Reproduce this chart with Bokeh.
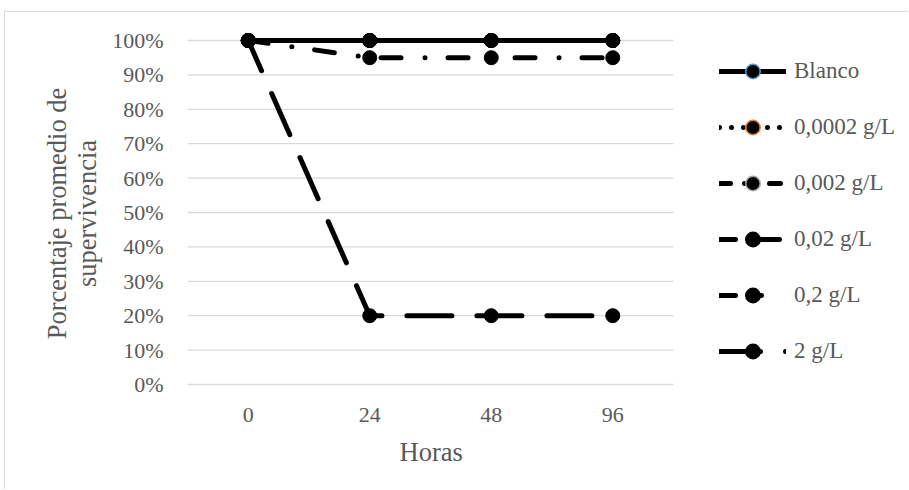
import numpy as np
from bokeh.plotting import figure
from bokeh.models import (Range1d, FixedTicker, NumeralTickFormatter,
                          Legend, LegendItem, ColumnDataSource, Title)
from bokeh.embed import file_html
from bokeh.resources import INLINE

# Survival data (fraction of organisms alive) per exposure time
horas = ["0", "24", "48", "96"]
blanco = [1.00, 1.00, 1.00, 1.00]
conc_00002 = [1.00, 1.00, 1.00, 1.00]
conc_0002 = [1.00, 0.95, 0.95, 0.95]
conc_002 = [1.00, 0.20, 0.20, 0.20]
conc_02 = [1.00, 1.00, 1.00, 1.00]
conc_2 = [1.00, 1.00, 1.00, 1.00]
series_names = ["Blanco", "0,0002 g/L", "0,002 g/L", "0,02 g/L", "0,2 g/L", "2 g/L"]
y_ticks = [0.0, 0.1, 0.2, 0.3, 0.4, 0.5, 0.6, 0.7, 0.8, 0.9, 1.0]

series_values = [blanco, conc_00002, conc_0002, conc_002, conc_02, conc_2]
# dash patterns along the plotted lines, and in the (shorter) legend samples
plot_dashes = ["solid", "0 12", "20 24 0 23", "45 25", "41 14 0 14 0 14", "solid"]
plot_offsets = [0, 0, 0, 12, 0, 0]
legend_dashes = ["solid", "0 12", "11 14 0 25", "16 17 27 30", "16 26 0 25 0 30", "41 25 0 30"]
ring_colors = ["#5B9BD5", "#ED7D31", "#A5A5A5", "#000000", "#000000", "#000000"]

FONT = "Liberation Serif"
GREY = "#595959"
GRID = "#D9D9D9"

# category slots: one unit each, centred on 0, 1, 2, ...
xpos = list(range(len(horas)))
slot_px = 121.5
frame_w = 909 - 5 - 182
unit_px = 344.0          # pixels per 100 %

p = figure(width=904, height=478, output_backend="svg", toolbar_location=None,
           x_range=Range1d(-0.5, -0.5 + frame_w / slot_px),
           y_range=Range1d(-17 / unit_px, 1 + 15 / unit_px),
           min_border_left=182, min_border_right=0,
           min_border_top=13, min_border_bottom=89)
p.margin = (11, 0, 0, 4)
p.styles = {"border-left": "1px solid #D9D9D9", "border-top": "1px solid #D9D9D9"}
p.outline_line_color = None
p.background_fill_color = "white"
p.border_fill_color = "white"

# axes
p.xaxis.ticker = FixedTicker(ticks=xpos)
p.xaxis.major_label_overrides = {i: h for i, h in zip(xpos, horas)}
p.yaxis.ticker = FixedTicker(ticks=y_ticks)
p.yaxis.formatter = NumeralTickFormatter(format="0%")
for ax in (p.xaxis[0], p.yaxis[0]):
    ax.axis_line_color = None
    ax.major_tick_line_color = None
    ax.minor_tick_line_color = None
    ax.major_label_text_font = FONT
    ax.major_label_text_color = GREY
    ax.major_label_text_font_size = "22px"
    ax.axis_label_text_font = FONT
    ax.axis_label_text_color = GREY
    ax.axis_label_text_font_size = "26.5px"
    ax.axis_label_text_font_style = "normal"
p.yaxis.major_label_standoff = 18
p.xaxis.major_label_standoff = 0
p.yaxis.axis_label = "Porcentaje promedio de\nsupervivencia"
p.yaxis.axis_label_standoff = 7
p.yaxis.axis_label_text_line_height = 1.0

# x-axis title, centred under the category slots
p.add_layout(Title(text="Horas", align="left", offset=212, standoff=20,
                   text_font=FONT, text_color=GREY, text_font_size="26.5px",
                   text_font_style="normal"), "below")

# horizontal gridlines across the category slots only
p.xgrid.grid_line_color = None
p.ygrid.grid_line_color = None
p.segment(x0=[-0.5] * len(y_ticks), x1=[len(horas) - 0.5] * len(y_ticks),
          y0=y_ticks, y1=y_ticks, line_color=GRID, line_width=1.3,
          level="underlay")

# series lines and markers
for name, vals, dash, off in zip(series_names, series_values, plot_dashes, plot_offsets):
    src = ColumnDataSource(dict(x=xpos, y=vals))
    p.line("x", "y", source=src, line_color="black", line_width=5,
           line_dash=dash, line_dash_offset=off,
           line_cap="round", line_join="round")
    p.scatter("x", "y", source=src, size=14, fill_color="black",
              line_color="black", line_width=1)

# legend entries (renderers with a single undrawn point, used for their glyphs)
items = []
for name, dash, ring in zip(series_names, legend_dashes, ring_colors):
    blank = ColumnDataSource(dict(x=np.array([np.nan]), y=np.array([np.nan])))
    lr = p.line("x", "y", source=blank, line_color="black", line_width=5,
                line_dash=dash, line_cap="round")
    mr = p.scatter("x", "y", source=blank, size=13, fill_color="black",
                   line_color=ring, line_width=1.5)
    items.append(LegendItem(label=name, renderers=[lr, mr]))

legend = Legend(items=items, location=(532, 32),
                glyph_width=67, glyph_height=36, label_height=36,
                label_standoff=8, spacing=20, padding=0, margin=0,
                label_text_font=FONT, label_text_color=GREY,
                label_text_font_size="23px",
                background_fill_alpha=0, border_line_color=None)
p.add_layout(legend, "center")

open("out.html", "w").write(file_html(p, INLINE))
